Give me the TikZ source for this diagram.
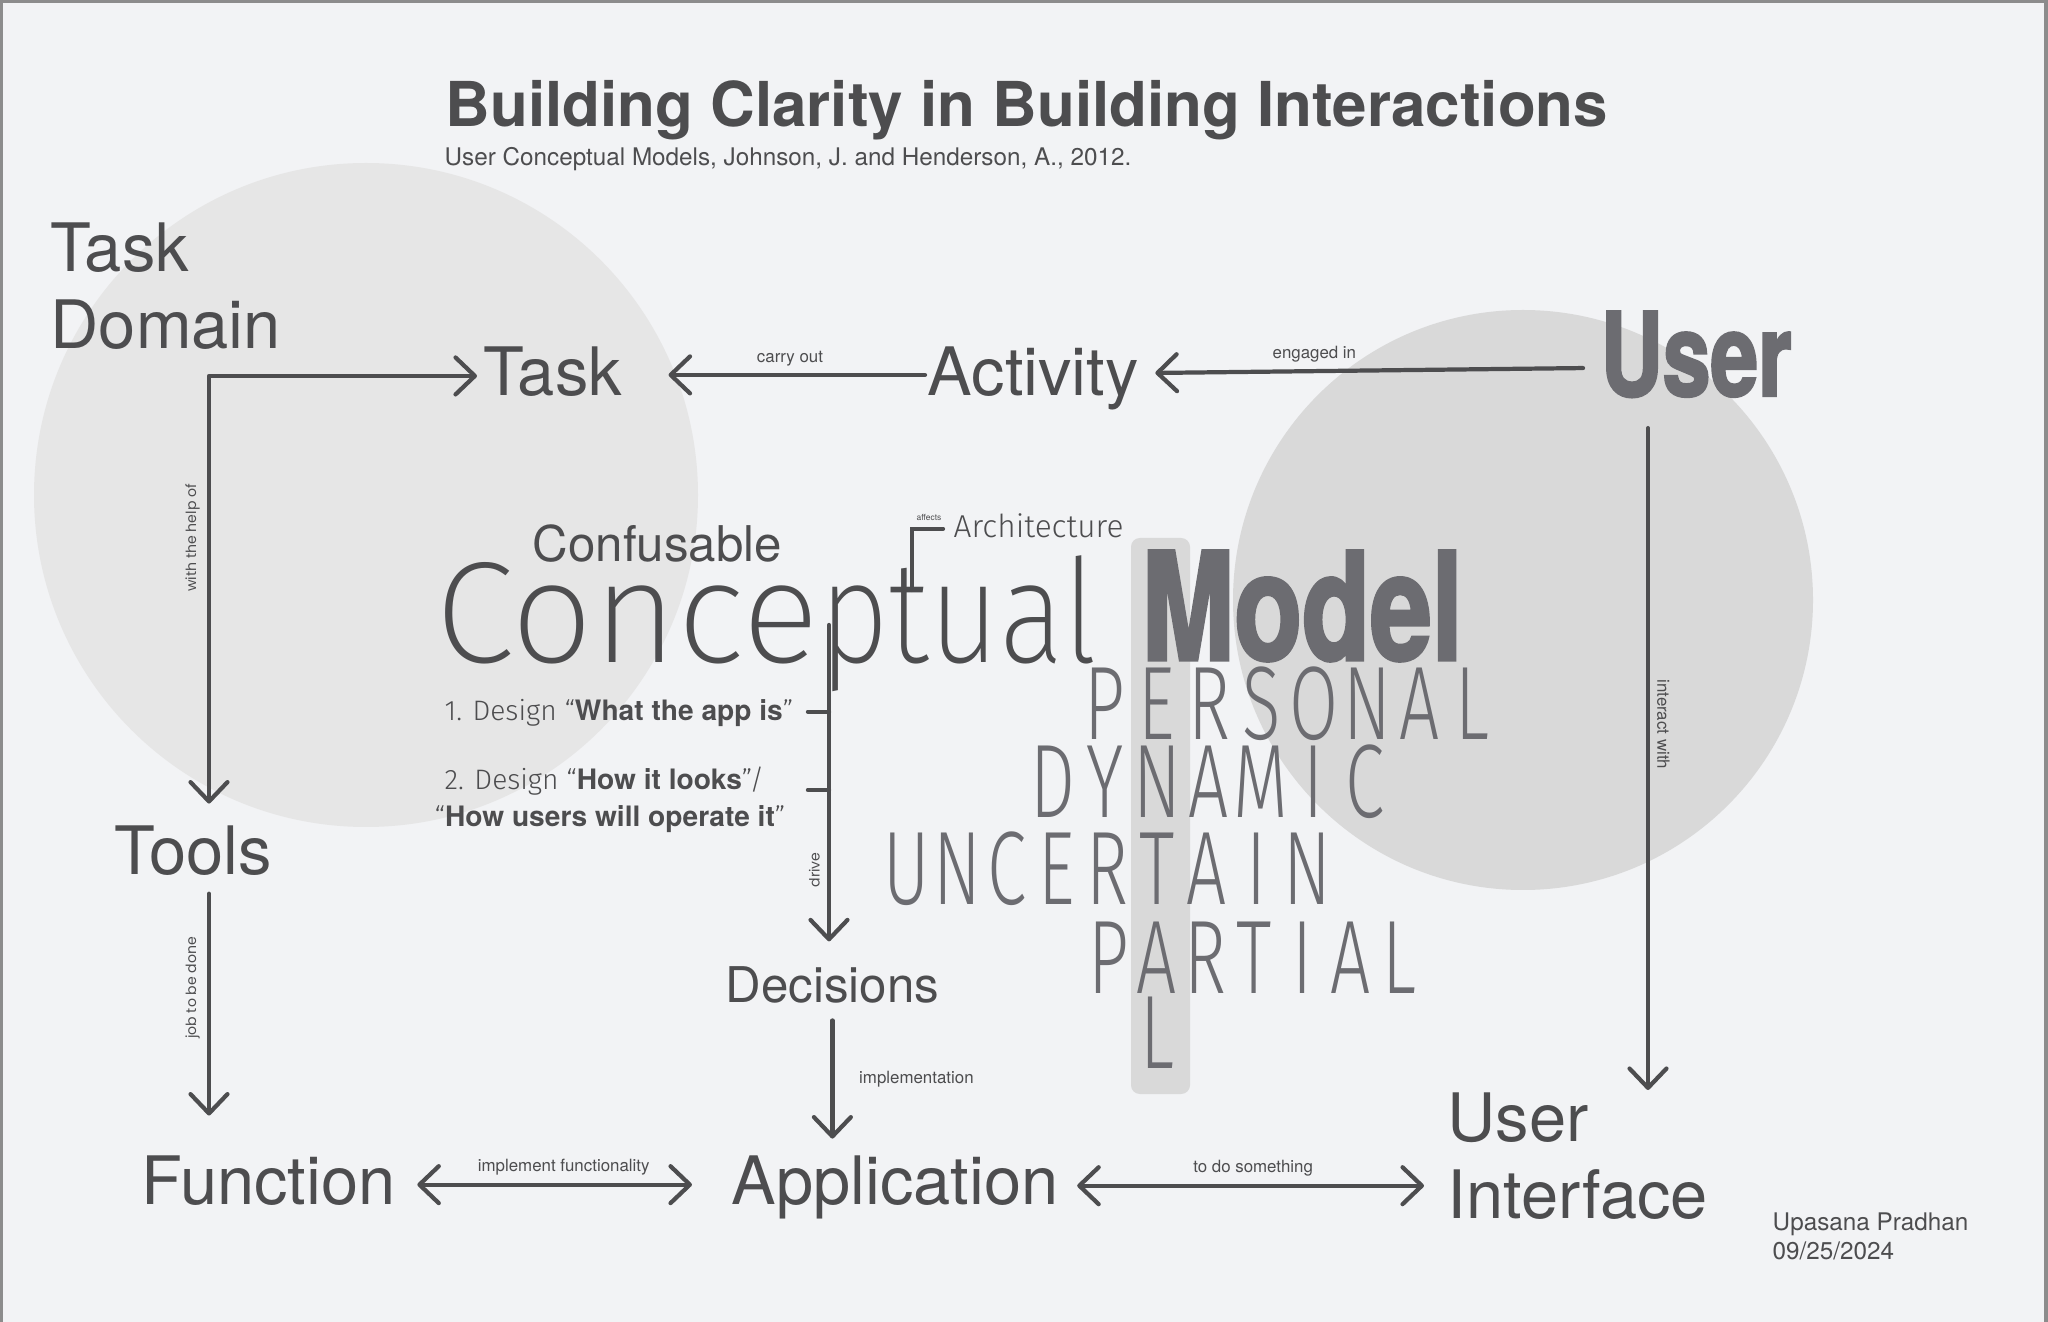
\documentclass[tikz,border=0pt]{standalone}
\usepackage{fontspec}
\setmainfont{TeX Gyre Heros}
\newfontfamily\thinfont{Fira Sans Light}
\newfontfamily\hairfont{Fira Sans ExtraLight}
\newfontfamily\hairnarrow{Fira Sans ExtraLight}[FakeStretch=0.84]
\newfontfamily\capfont{Fira Sans Light}[FakeStretch=0.68]
\newfontfamily\condfont{TeX Gyre Heros}[FakeStretch=0.74, FakeBold=2]
\newfontfamily\geofont{Poppins}
\usepackage{tikz}
\usetikzlibrary{positioning,arrows.meta,calc}
\definecolor{inkgray}{RGB}{77,77,79}
\definecolor{modelgray}{RGB}{108,108,113}
\definecolor{paper}{RGB}{242,243,245}
\definecolor{domaingray}{RGB}{230,230,230}
\definecolor{usergray}{RGB}{217,217,217}
\definecolor{framegray}{RGB}{140,140,140}
\tikzset{barb/.tip={Straight Barb[length=5.5pt,width=10.5pt,round]}}

\begin{document}
\begin{tikzpicture}[x=0.01cm, y=-0.01cm,
  word/.style={inner sep=0pt, text=inkgray, font=\fontsize{19}{21.9}\selectfont},
  midword/.style={inner sep=0pt, text=inkgray, font=\fontsize{14}{16}\selectfont},
  design/.style={inner sep=0pt, text=inkgray, font=\fontsize{8}{9}\selectfont},
  tag/.style={inner sep=2pt, text=inkgray, font=\fontsize{4.8}{6}\selectfont},
  geotag/.style={inner sep=2pt, text=inkgray, font=\geofont\fontsize{4}{5}\selectfont},
  capletter/.style={inner sep=0pt, anchor=base, text=modelgray, font=\capfont\fontsize{29.7}{30}\selectfont},
  arrow/.style={draw=inkgray, line width=1.2pt, line cap=round, line join=round, -barb},
  darrow/.style={arrow, barb-barb},
  plain/.style={draw=inkgray, line width=1.2pt, line cap=round}
]
  % background, circles, column
  \fill[paper] (0,0) rectangle (2048,1322);
  \useasboundingbox (0,0) rectangle (2048,1322);
  \fill[domaingray] (366,495) circle[radius=332];
  \fill[usergray] (1523,600) circle[radius=290];
  \fill[usergray, rounded corners=2.5pt] (1131,538) rectangle (1190,1094);
  \draw[framegray, line width=0.9pt] (1,1322) -- (1,1) -- (2046,1) -- (2046,1322);

  % headings
  \node[inner sep=0pt, anchor=base west, text=inkgray, font=\bfseries\fontsize{17.6}{20}\selectfont] (title) at (445,127) {Building Clarity in Building Interactions};
  \node[inner sep=0pt, anchor=base west, text=inkgray, font=\fontsize{6.9}{8}\selectfont] (source) at (444,166) {User Conceptual Models, Johnson, J. and Henderson, A., 2012.};

  % main words
  \node[word, anchor=north west, align=left] (domain) at (50,222) {Task\\Domain};
  \node[word, anchor=base west] (task) at (483,396) {Task};
  \node[word, anchor=base west] (activity) at (927,396) {Activity};
  \node[inner sep=0pt, anchor=base west, text=modelgray, font=\condfont\bfseries\fontsize{33}{36}\selectfont] (user) at (1600,396) {User};
  \node[word, anchor=base west] (tools) at (114,875) {Tools};
  \node[word, anchor=base west] (function) at (141,1204) {Function};
  \node[word, anchor=base west] (app) at (731,1204) {Application};
  \node[word, anchor=north west, align=left] (ui) at (1447,1092) {User\\Interface};
  \node[midword, anchor=base west] (decisions) at (725,1002) {Decisions};
  \node[midword, anchor=base west] (confusable) at (532,562) {Confusable};
  \node[inner sep=0pt, anchor=base west, text=inkgray, font=\fontsize{41}{44}\selectfont] (conceptual) at (435,663) {{\hairfont Conce}{\hairnarrow ptual}};
  \node[inner sep=0pt, anchor=base west, text=inkgray, font=\thinfont\fontsize{9}{10}\selectfont] (arch) at (953,538) {Architecture};
  \node[inner sep=0pt, text=inkgray, font=\fontsize{2.4}{3}\selectfont] (affects) at (929,517) {affects};
  \node[inner sep=0pt, anchor=base west, text=modelgray, font=\condfont\bfseries\fontsize{42.7}{46}\selectfont] (model) at (1141,660) {Model};

  % design steps
  \node[design, anchor=base west] (design1) at (444,721) {{\thinfont 1. Design “}\textbf{What the app is}{\thinfont ”}};
  \node[design, anchor=base west] (design2) at (444,790) {{\thinfont 2. Design “}\textbf{How it looks}{\thinfont ”/}};
  \node[design, anchor=base west] (design3) at (434,827) {{\thinfont “}\textbf{How users will operate it}{\thinfont ”}};

  % the MENTAL column
  \foreach \word/\hit/\yy/\pitch in {{P,E,R,S,O,N,A,L}/1/740/52.5, {D,Y,N,A,M,I,C}/2/818/52, {U,N,C,E,R,T,A,I,N}/5/905/50, {P,A,R,T,I,A,L}/1/993/48.5, {L}/0/1068/50}
    \foreach \ch [count=\i from 0] in \word
      \node[capletter] (cap-\yy-\i) at ({1157+\pitch*(\i-\hit)},\yy) {\ch};

  \node[inner sep=0pt, anchor=north west, align=left, text=inkgray, font=\fontsize{6.9}{8.25}\selectfont] (author) at (1772,1212) {Upasana Pradhan\\09/25/2024};

  % connectors
  \coordinate (tdcorner) at (209,0);
  \coordinate (drivetop) at (829,625);
  \coordinate (brk) at (912,590);
  \coordinate (ucol) at (1648,0);

  \draw[arrow, shorten <=0.02cm, shorten >=0.46cm] ([yshift=6pt]activity.base west) -- node[tag, above, pos=0.45] (carry) {carry out} ([yshift=6pt]task.base east);
  \draw[arrow, shorten <=0.17cm, shorten >=0.16cm] ([yshift=8pt]user.base west) -- node[tag, above, pos=0.62] (engaged) {engaged in} ([yshift=6.5pt]activity.base east);
  \draw[darrow, shorten <=0.06cm, shorten >=0.22cm] ([yshift=5.7pt]task.base west) -- ([yshift=5.7pt]task.base west -| tdcorner) -- node[geotag, rotate=90, anchor=south, pos=0.36] (helpof) {with the help of} (tdcorner |- tools.north);
  \draw[arrow, shorten <=0.17cm, shorten >=0.39cm] (tdcorner |- tools.south) -- node[geotag, rotate=90, anchor=south, pos=0.4] (jobdone) {job to be done} (tdcorner |- function.north);
  \draw[darrow, shorten <=0.21cm, shorten >=0.39cm] ([yshift=5.5pt]function.base east) -- node[tag, above] (implfunc) {implement functionality} ([yshift=5.5pt]app.base west);
  \draw[darrow, shorten <=0.18cm, shorten >=0.23cm] ([yshift=5.2pt]app.base east) -- node[tag, above] (dosomething) {to do something} ([yshift=5.2pt]app.base east -| ui.west);
  \draw[arrow, shorten <=0.17cm, shorten >=0.16cm] (decisions.south) -- node[tag, right=5pt] (implem) {implementation} (decisions.south |- app.north);
  \draw[arrow, shorten >=0.24cm] (drivetop) -- node[geotag, rotate=90, anchor=south, pos=0.72] (drive) {drive} (drivetop |- decisions.north);
  \draw[plain] ([xshift=-6pt]design1.mid east -| drivetop) -- (design1.mid east -| drivetop);
  \draw[plain] ([xshift=-6pt]design2.base east -| drivetop) -- (design2.base east -| drivetop);
  \draw[plain, shorten <=0.1cm] (arch.mid west) -| (brk);
  \draw[arrow, shorten <=0.3cm, shorten >=0.02cm] (ucol |- user.south) -- node[tag, rotate=-90, anchor=south, pos=0.47] (interact) {interact with} (ucol |- ui.north);
\end{tikzpicture}
\end{document}
